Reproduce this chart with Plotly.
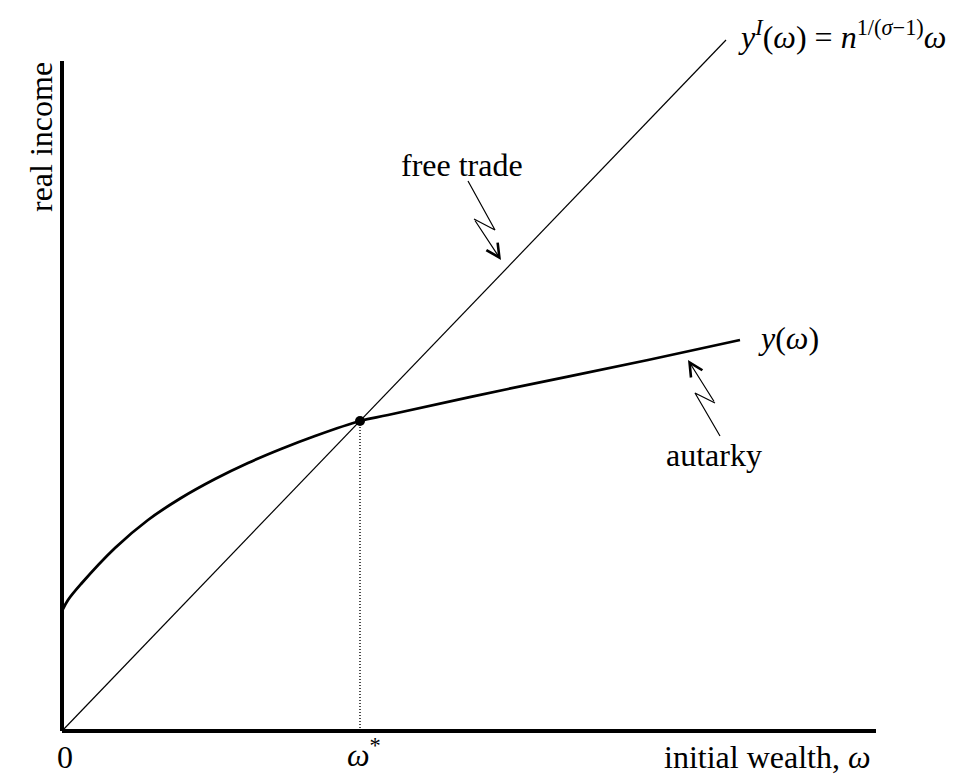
import plotly.graph_objects as go

# all values in picture units: omega along x, real income along y
axis_end_x = 814
axis_end_y = 670

# free-trade line y^I(omega)
free_x = [0, 664]
free_y = [0, 691]

# autarky curve y(omega)
aut_x = [0, 6, 19, 53, 86, 119, 153, 186, 219, 253, 298, 326, 446, 586, 678]
aut_y = [120, 131, 147, 183, 211, 233, 252, 268, 282, 295, 310, 316, 342, 371, 391]

# crossing point omega*
star_x = [298]
star_y = [310]

# zigzag pointers: tail, first bend, second bend, tip
free_arrow_x = [406, 433, 412, 439]
free_arrow_y = [550, 501, 512, 471]
aut_arrow_x = [658, 633, 653, 626]
aut_arrow_y = [295, 338, 328, 371]

FONT = 'Liberation Serif'
BLACK = '#000000'

fig = go.Figure()

fig.add_trace(go.Scatter(x=free_x, y=free_y, mode='lines',
                         line=dict(color=BLACK, width=1.2), hoverinfo='skip'))
fig.add_trace(go.Scatter(x=aut_x, y=aut_y, mode='lines', line_shape='spline',
                         line=dict(color=BLACK, width=2.8, smoothing=1.0),
                         hoverinfo='skip'))
fig.add_trace(go.Scatter(x=star_x * 2, y=[0] + star_y, mode='lines',
                         line=dict(color=BLACK, width=1.4, dash='1px,2px'),
                         hoverinfo='skip'))
fig.add_trace(go.Scatter(x=star_x, y=star_y, mode='markers',
                         marker=dict(color=BLACK, size=10), hoverinfo='skip'))
for ax_, ay_ in [(free_arrow_x, free_arrow_y), (aut_arrow_x, aut_arrow_y)]:
    fig.add_trace(go.Scatter(x=ax_[:3], y=ay_[:3], mode='lines',
                             line=dict(color=BLACK, width=1.2), hoverinfo='skip'))
    fig.add_annotation(x=ax_[3], y=ay_[3], ax=ax_[2], ay=ay_[2],
                       xref='x', yref='y', axref='x', ayref='y', text='',
                       showarrow=True, arrowhead=5, arrowsize=2.2,
                       arrowwidth=1.2, arrowcolor=BLACK)

# axes drawn as plain lines
fig.add_shape(type='line', x0=0, y0=0, x1=axis_end_x, y1=0,
              line=dict(color=BLACK, width=4))
fig.add_shape(type='line', x0=0, y0=0, x1=0, y1=axis_end_y,
              line=dict(color=BLACK, width=4))

labels = [
    (674, 696, '<i>y</i><sup><i>I</i></sup>(<i>ω</i>) = <i>n</i><sup>1/(<i>σ</i>−1)</sup><i>ω</i>', 'left', 0),
    (400, 566, 'free trade', 'center', 0),
    (694, 393, '<i>y</i>(<i>ω</i>)', 'left', 0),
    (652, 276, 'autarky', 'center', 0),
    (3, -26, '0', 'center', 0),
    (302, -22, '<i>ω</i><sup>*</sup>', 'center', 0),
    (811, -26, 'initial wealth, <i>ω</i>', 'right', 0),
    (-21, 594, 'real income', 'center', -90),
]
for x, y, t, anchor, ang in labels:
    fig.add_annotation(x=x, y=y, xref='x', yref='y', text=t, showarrow=False,
                       xanchor=anchor, yanchor='middle', textangle=ang,
                       font=dict(family=FONT, size=32, color=BLACK))

fig.update_layout(
    width=962, height=774,
    margin=dict(l=0, r=0, t=0, b=0),
    paper_bgcolor='white', plot_bgcolor='white',
    showlegend=False,
    xaxis=dict(range=[-54, 908], visible=False, fixedrange=True),
    yaxis=dict(range=[-51, 723], visible=False, fixedrange=True),
)

fig.write_html('out.html')
